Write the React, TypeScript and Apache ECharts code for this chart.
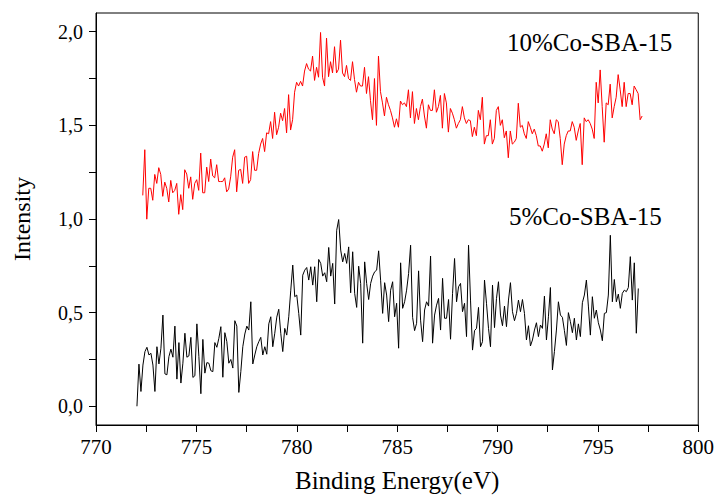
import React, { useEffect, useRef } from "react";
import * as echarts from "echarts";

const FONT = "Liberation Serif";

const X_MIN = 770;
const X_MAX = 800;
const X_LABELS = [770, 775, 780, 785, 790, 795, 800];
const X_TICKS = [770, 772.5, 775, 777.5, 780, 782.5, 785, 787.5, 790, 792.5, 795, 797.5, 800];
const Y_MIN = -0.1;
const Y_MAX = 2.1;
const Y_LABELS = [0, 0.5, 1, 1.5, 2];
const Y_TICKS = [0, 0.25, 0.5, 0.75, 1, 1.25, 1.5, 1.75, 2];

const STEP = 0.0995;
const RED_START = 772.33;
const BLACK_START = 772.04;

const RED_LABEL = "10%Co-SBA-15";
const BLACK_LABEL = "5%Co-SBA-15";

const redValues = [
  1.126, 1.37, 0.999, 1.164, 1.164, 1.10, 1.238, 1.19, 1.274, 1.238,
  1.121, 1.197, 1.164, 1.091, 1.206, 1.14, 1.153, 1.19, 1.025, 1.13,
  1.05, 1.263, 1.24, 1.164, 1.225, 1.105, 1.19, 1.21, 1.153, 1.352,
  1.14, 1.14, 1.277, 1.20, 1.32, 1.23, 1.22, 1.29, 1.20, 1.20,
  1.20, 1.22, 1.145, 1.16, 1.225, 1.33, 1.37, 1.145, 1.26, 1.265,
  1.19, 1.33, 1.335, 1.19, 1.21, 1.36, 1.26, 1.26, 1.35, 1.40,
  1.43, 1.36, 1.46, 1.455, 1.52, 1.43, 1.57, 1.45, 1.49, 1.565,
  1.525, 1.59, 1.46, 1.664, 1.475, 1.53, 1.677, 1.73, 1.71, 1.735,
  1.71, 1.79, 1.83, 1.80, 1.79, 1.87, 1.74, 1.81, 1.757, 1.996,
  1.757, 1.71, 1.966, 1.76, 1.84, 1.78, 1.92, 1.78, 1.80, 1.955,
  1.78, 1.76, 1.82, 1.75, 1.74, 1.84, 1.745, 1.677, 1.73, 1.71,
  1.71, 1.81, 1.67, 1.76, 1.632, 1.53, 1.75, 1.50, 1.87, 1.68,
  1.62, 1.55, 1.65, 1.61, 1.58, 1.54, 1.49, 1.535, 1.49, 1.63,
  1.61, 1.62, 1.60, 1.69, 1.54, 1.68, 1.51, 1.59, 1.53, 1.60,
  1.64, 1.55, 1.485, 1.61, 1.58, 1.58, 1.69, 1.57, 1.60, 1.66,
  1.485, 1.67, 1.62, 1.464, 1.59, 1.565, 1.53, 1.485, 1.51, 1.53,
  1.60, 1.54, 1.51, 1.53, 1.525, 1.44, 1.49, 1.445, 1.58, 1.53,
  1.65, 1.40, 1.445, 1.445, 1.53, 1.40, 1.43, 1.58, 1.60, 1.50,
  1.53, 1.434, 1.47, 1.327, 1.47, 1.40, 1.41, 1.43, 1.618, 1.49,
  1.50, 1.455, 1.43, 1.52, 1.49, 1.455, 1.48, 1.445, 1.39, 1.39,
  1.362, 1.40, 1.455, 1.38, 1.53, 1.48, 1.455, 1.53, 1.52, 1.43,
  1.29, 1.40, 1.445, 1.47, 1.47, 1.52, 1.49, 1.42, 1.47, 1.51,
  1.29, 1.54, 1.52, 1.53, 1.51, 1.48, 1.43, 1.73, 1.62, 1.796,
  1.60, 1.41, 1.62, 1.61, 1.72, 1.54, 1.60, 1.65, 1.771, 1.69,
  1.60, 1.73, 1.60, 1.67, 1.67, 1.61, 1.71, 1.69, 1.67, 1.53,
  1.55,
];

const blackValues = [
  0.0, 0.225, 0.079, 0.22, 0.292, 0.315, 0.274, 0.283, 0.22, 0.079,
  0.318, 0.226, 0.31, 0.487, 0.173, 0.168, 0.265, 0.305, 0.262, 0.428,
  0.145, 0.34, 0.124, 0.23, 0.39, 0.262, 0.269, 0.368, 0.154, 0.163,
  0.44, 0.265, 0.067, 0.357, 0.177, 0.233, 0.23, 0.19, 0.185, 0.34,
  0.315, 0.363, 0.425, 0.155, 0.393, 0.345, 0.23, 0.25, 0.204, 0.457,
  0.428, 0.074, 0.185, 0.318, 0.386, 0.428, 0.407, 0.558, 0.226, 0.274,
  0.318, 0.345, 0.368, 0.274, 0.318, 0.278, 0.44, 0.478, 0.318, 0.39,
  0.476, 0.518, 0.39, 0.292, 0.416, 0.38, 0.478, 0.62, 0.754, 0.585,
  0.594, 0.496, 0.38, 0.70, 0.727, 0.741, 0.674, 0.745, 0.647, 0.745,
  0.558, 0.784, 0.763, 0.695, 0.713, 0.665, 0.848,
  0.695, 0.763, 0.546, 0.94, 0.997, 0.834, 0.771, 0.816, 0.763, 0.851,
  0.606, 0.825, 0.603, 0.528, 0.748, 0.656, 0.337, 0.771, 0.656, 0.57,
  0.656, 0.695, 0.718, 0.727, 0.83, 0.67, 0.496, 0.66, 0.594, 0.452,
  0.62, 0.665, 0.478, 0.55, 0.31, 0.766, 0.523, 0.558, 0.62, 0.709,
  0.86, 0.475, 0.404, 0.443, 0.723, 0.46, 0.345, 0.514, 0.558, 0.535,
  0.802, 0.337, 0.487, 0.54, 0.576, 0.407, 0.683, 0.47, 0.47, 0.57,
  0.358, 0.603, 0.789, 0.558, 0.638, 0.656, 0.505, 0.55, 0.372, 0.86,
  0.567, 0.30, 0.404, 0.416, 0.528, 0.318, 0.345, 0.674, 0.55, 0.416,
  0.318, 0.647, 0.42, 0.576,
  0.665, 0.487, 0.43, 0.535, 0.425, 0.567, 0.66, 0.505, 0.457, 0.496,
  0.567, 0.505, 0.57, 0.496, 0.354, 0.43, 0.322, 0.354, 0.407, 0.446,
  0.372, 0.434, 0.416, 0.588, 0.354, 0.478, 0.634, 0.194, 0.292, 0.407,
  0.558, 0.487, 0.475, 0.404, 0.325, 0.50, 0.452, 0.393, 0.47, 0.354,
  0.44, 0.372, 0.553, 0.594, 0.674, 0.535, 0.38, 0.585, 0.47, 0.514,
  0.446, 0.407, 0.35, 0.496, 0.50, 0.594, 0.913, 0.558, 0.677, 0.558,
  0.599, 0.523, 0.603, 0.62, 0.612, 0.634, 0.799, 0.567, 0.766, 0.39,
  0.629,
];

const toPairs = (start: number, vals: number[]) =>
  vals.map((v, i) => [+(start + i * STEP).toFixed(3), v]);

export default function App() {
  const ref = useRef<HTMLDivElement>(null);

  useEffect(() => {
    if (!ref.current) return;
    const chart = echarts.init(ref.current, undefined, { renderer: "svg" });
    const fmtY = (v: number) => v.toFixed(1).replace(".", ",");
    chart.setOption({
      animation: false,
      backgroundColor: "#ffffff",
      textStyle: { fontFamily: FONT, color: "#000" },
      grid: {
        left: 96,
        right: 14,
        top: 13,
        bottom: 73,
        show: true,
        borderColor: "#000",
        borderWidth: 1,
        backgroundColor: "transparent",
      },
      xAxis: {
        type: "value",
        min: X_MIN,
        max: X_MAX,
        interval: 5,
        name: "Binding Energy(eV)",
        nameLocation: "middle",
        nameGap: 43,
        nameTextStyle: { fontFamily: FONT, fontSize: 25, color: "#000" },
        axisLine: { show: true, onZero: false, lineStyle: { color: "#000", width: 1 } },
        axisTick: {
          show: true,
          length: 7,
          inside: false,
          customValues: X_TICKS,
          lineStyle: { color: "#000", width: 1 },
        },
        axisLabel: {
          customValues: X_LABELS,
          fontFamily: FONT,
          fontSize: 21,
          color: "#000",
          margin: 11,
        },
        splitLine: { show: false },
      },
      yAxis: {
        type: "value",
        min: Y_MIN,
        max: Y_MAX,
        name: "Intensity",
        nameLocation: "middle",
        nameGap: 62,
        nameRotate: 90,
        nameTextStyle: { fontFamily: FONT, fontSize: 24, color: "#000" },
        axisLine: { show: true, onZero: false, lineStyle: { color: "#000", width: 1 } },
        axisTick: {
          show: true,
          length: 7,
          inside: false,
          customValues: Y_TICKS,
          lineStyle: { color: "#000", width: 1 },
        },
        axisLabel: {
          customValues: Y_LABELS,
          formatter: fmtY,
          fontFamily: FONT,
          fontSize: 20,
          color: "#000",
          margin: 13,
        },
        splitLine: { show: false },
      },
      series: [
        {
          type: "line",
          name: BLACK_LABEL,
          data: toPairs(BLACK_START, blackValues),
          showSymbol: false,
          symbol: "none",
          lineStyle: { color: "#000000", width: 1 },
        },
        {
          type: "line",
          name: RED_LABEL,
          data: toPairs(RED_START, redValues),
          showSymbol: false,
          symbol: "none",
          lineStyle: { color: "#ff0000", width: 1 },
        },
      ],
      graphic: [
        {
          type: "text",
          left: 507,
          top: 30,
          style: { text: RED_LABEL, font: `25px ${FONT}`, fill: "#000" },
        },
        {
          type: "text",
          left: 509,
          top: 204,
          style: { text: BLACK_LABEL, font: `25px ${FONT}`, fill: "#000" },
        },
      ],
    });
    return () => chart.dispose();
  }, []);

  return (
    <div
      ref={ref}
      style={{ position: "fixed", left: 0, top: 0, width: 717, height: 498, background: "#fff" }}
    />
  );
}
